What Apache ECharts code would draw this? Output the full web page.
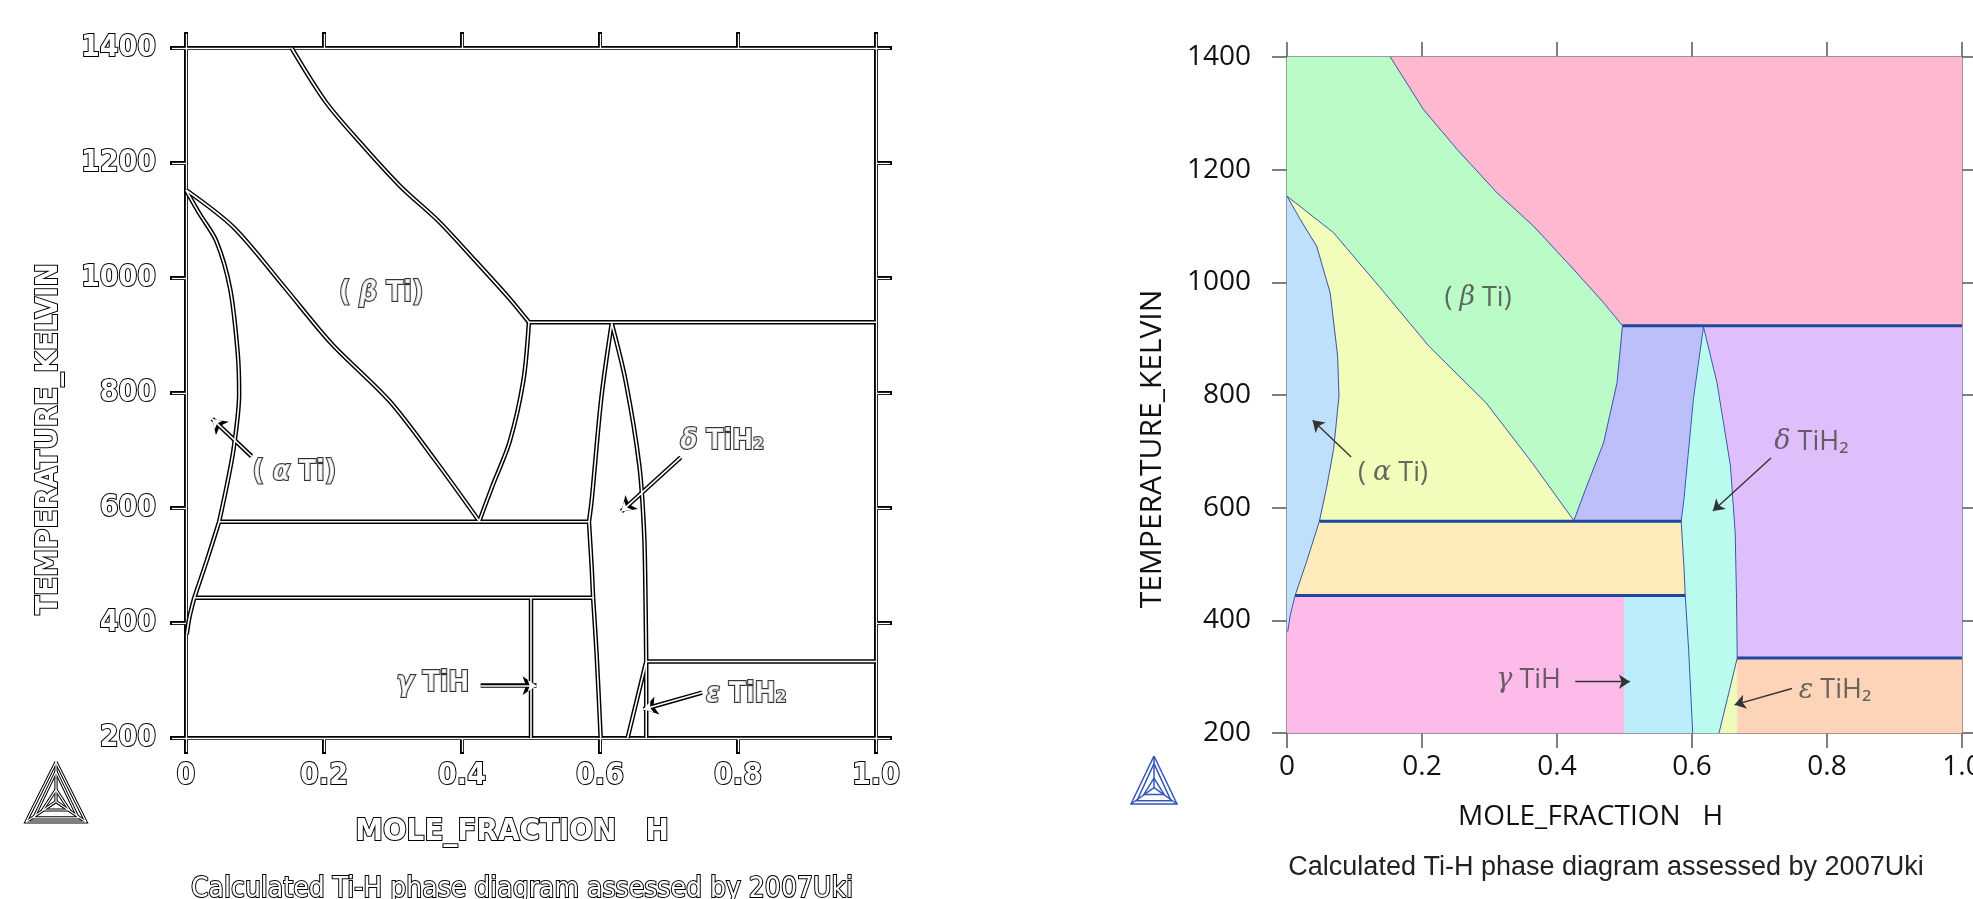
<!doctype html>
<html>
<head>
<meta charset="utf-8">
<script src="https://cdn.jsdelivr.net/npm/echarts@6/dist/echarts.min.js"></script>
<style>
html, body { margin: 0; padding: 0; background: #fff; }
#main { width: 1973px; height: 899px; }
</style>
</head>
<body>
<div id="main"></div>
<script>
// axis ticks
var xTickLabels = ['0', '0.2', '0.4', '0.6', '0.8', '1.0'];
var tempTicks = [200, 400, 600, 800, 1000, 1200, 1400];

// phase boundaries, [mole fraction H, temperature K]
var gasBeta = [[0.153, 1400], [0.202, 1307], [0.252, 1236], [0.311, 1159], [0.365, 1100], [0.420, 1029], [0.469, 964], [0.497, 923]];
var betaDelta = [[0.497, 923], [0.489, 822], [0.469, 715], [0.444, 638], [0.425, 577]];
var betaSolvus = [[0, 1153], [0.069, 1088], [0.142, 985], [0.210, 887], [0.295, 786], [0.363, 680], [0.425, 577]];
var alphaSolvus = [[0, 1153], [0.020, 1111], [0.044, 1064], [0.064, 981], [0.075, 869], [0.077, 798], [0.069, 703], [0.059, 638], [0.048, 576]];
var alphaLow = [[0.048, 576], [0.030, 508], [0.012, 444]];
var alphaEnd = [[0.012, 444], [0.005, 410], [0.001, 380]];
var deltaLeftTop = [[0.617, 921], [0.602, 792], [0.588, 614], [0.584, 576]];
var deltaLeftMid = [[0.584, 576], [0.588, 496], [0.590, 444]];
var deltaLeftLow = [[0.590, 444], [0.595, 348], [0.601, 200]];
var deltaRight = [[0.617, 921], [0.637, 822], [0.657, 674], [0.664, 555], [0.666, 437], [0.667, 333]];
var epsSolvus = [[0.667, 333], [0.652, 259], [0.640, 200]];
var gammaTiH = [[0.5, 200], [0.5, 444]];
var epsEdge = [[0.667, 200], [0.667, 333]];
var invariants = [
    [[0.497, 923], [1, 923]],
    [[0.048, 576], [0.584, 576]],
    [[0.012, 444], [0.590, 444]],
    [[0.667, 333], [1, 333]]
];

// phase labels and arrows
var phaseLabels = ['( {g|β} Ti)', '( {g|α} Ti)', '{g|δ} TiH₂', '{g|γ} TiH', '{g|ε} TiH₂'];
var labelPos = [[0.283, 972], [0.157, 661], [0.777, 716], [0.358, 294], [0.812, 275]];
var arrows = [
    [[0.095, 690], [0.038, 755]],
    [[0.717, 688], [0.631, 594]],
    [[0.427, 291], [0.508, 291]],
    [[0.748, 279], [0.663, 250]]
];

function rev(a) { return a.slice().reverse(); }

var polygons = [
    [[1, 1400], [1, 923]].concat(rev(gasBeta)),
    [[0, 1400]].concat(gasBeta, betaDelta.slice(1), rev(betaSolvus)),
    betaSolvus.concat(rev(alphaSolvus)),
    alphaSolvus.concat(alphaLow.slice(1), alphaEnd.slice(1), [[0, 380]]),
    [[0.497, 923], [0.617, 923]].concat(deltaLeftTop, [[0.425, 576]], rev(betaDelta)),
    [[0.617, 923], [1, 923], [1, 333]].concat(rev(deltaRight)),
    deltaLeftTop.concat(deltaLeftMid.slice(1), deltaLeftLow.slice(1), rev(epsSolvus), rev(deltaRight).slice(1)),
    [[0.048, 576], [0.584, 576]].concat(deltaLeftMid.slice(1), [[0.012, 444]], rev(alphaLow).slice(1)),
    [[0.012, 444], [0.5, 444], [0.5, 200], [0, 200], [0, 380]].concat(rev(alphaEnd)),
    [[0.5, 444]].concat(deltaLeftLow, [[0.5, 200]]),
    epsSolvus.concat([[0.667, 200]]),
    [[0.667, 333], [1, 333], [1, 200], [0.667, 200]]
];
var regionColors = ['#feb9d0', '#bafbc8', '#f2fcbb', '#bee0fb', '#bdbffb', '#dfbffb',
    '#bbfbef', '#fdebbc', '#fdbbea', '#bcedfb', '#eefcbb', '#fed4b9'];

var curves = [gasBeta, betaDelta, betaSolvus, alphaSolvus, alphaLow, alphaEnd,
    deltaLeftTop, deltaLeftMid, deltaLeftLow, deltaRight, epsSolvus, gammaTiH, epsEdge];

var chart = echarts.init(document.getElementById('main'));

var outlineFont = 'DejaVu Sans Condensed';
var outlineText = { color: '#fff', textBorderColor: '#000', textBorderWidth: 2, fontFamily: outlineFont, fontWeight: 'bold' };
var xFmt = function (v) { return xTickLabels[Math.round(v / 0.2)]; };
var yFmt = function (v) { return String(tempTicks[Math.round((v - 200) / 200)]); };

function leftX(pos, white) {
    var ax = {
        gridIndex: 0, type: 'value', min: 0, max: 1, interval: 0.2, position: pos, z: white ? 2 : 1,
        axisLine: { onZero: false, lineStyle: { color: white ? '#fff' : '#000', width: white ? 1.3 : 4 } },
        axisTick: { length: white ? 14 : 16, lineStyle: { color: white ? '#fff' : '#000', width: white ? 1.3 : 4 } },
        axisLabel: { show: false },
        splitLine: { show: false }
    };
    if (pos === 'bottom' && !white) {
        ax.axisLabel = Object.assign({ show: true, margin: 23, fontSize: 30, formatter: xFmt }, outlineText);
        ax.name = 'MOLE_FRACTION   H';
        ax.nameLocation = 'middle';
        ax.nameGap = 78;
        ax.nameTextStyle = Object.assign({ fontSize: 31, padding: [0, 38, 0, 0] }, outlineText);
    }
    return ax;
}
function leftY(pos, white) {
    var ax = {
        gridIndex: 0, type: 'value', min: 200, max: 1400, interval: 200, position: pos, z: white ? 2 : 1,
        axisLine: { onZero: false, lineStyle: { color: white ? '#fff' : '#000', width: white ? 1.3 : 4 } },
        axisTick: { length: white ? 14 : 16, lineStyle: { color: white ? '#fff' : '#000', width: white ? 1.3 : 4 } },
        axisLabel: { show: false },
        splitLine: { show: false }
    };
    if (pos === 'left' && !white) {
        ax.axisLabel = Object.assign({ show: true, margin: 30, fontSize: 30, formatter: yFmt }, outlineText);
        ax.name = 'TEMPERATURE_KELVIN';
        ax.nameLocation = 'middle';
        ax.nameGap = 122;
        ax.nameTextStyle = Object.assign({ fontSize: 31, padding: [0, 92, 0, 0] }, outlineText);
    }
    return ax;
}
var rightLine = { onZero: false, lineStyle: { color: '#555', width: 1.5 } };
var rightTick = { length: 15, lineStyle: { color: '#555', width: 1.5 } };
var rightText = { fontSize: 28, fontFamily: 'Open Sans', color: '#111' };

var series = [];

// left panel: outlined drawing
curves.concat(invariants).forEach(function (c) {
    series.push({ type: 'line', xAxisIndex: 0, yAxisIndex: 0, data: c, showSymbol: false, smooth: 0.3,
        lineStyle: { color: '#000', width: 4.5 }, z: 3, silent: true });
    series.push({ type: 'line', xAxisIndex: 0, yAxisIndex: 0, data: c, showSymbol: false, smooth: 0.3,
        lineStyle: { color: '#fff', width: 1.6 }, z: 4, silent: true });
});
series.push({ type: 'lines', coordinateSystem: 'cartesian2d', xAxisIndex: 0, yAxisIndex: 0,
    symbol: ['none', 'arrow'], symbolSize: 14, lineStyle: { color: '#000', width: 4.5, opacity: 1 }, z: 3,
    data: arrows.map(function (a) { return { coords: a }; }) });
series.push({ type: 'lines', coordinateSystem: 'cartesian2d', xAxisIndex: 0, yAxisIndex: 0,
    symbol: ['none', 'arrow'], symbolSize: 9, lineStyle: { color: '#fff', width: 1.6, opacity: 1 }, z: 4,
    data: arrows.map(function (a) { return { coords: a }; }) });
series.push({ type: 'scatter', xAxisIndex: 0, yAxisIndex: 0, symbolSize: 0, z: 5,
    data: labelPos,
    label: Object.assign({ show: true, position: 'inside', fontSize: 28,
        formatter: function (p) { return phaseLabels[p.dataIndex]; },
        rich: { g: Object.assign({ fontSize: 28, fontStyle: 'italic' }, outlineText) } }, outlineText) });

// right panel: coloured regions
series.push({ type: 'custom', xAxisIndex: 4, yAxisIndex: 4, z: 2, silent: true,
    data: polygons.map(function (p) { return p[0]; }),
    renderItem: function (params, api) {
        var pts = polygons[params.dataIndex].map(function (p) { return api.coord(p); });
        return { type: 'polygon', shape: { points: pts },
            style: { fill: regionColors[params.dataIndex], stroke: regionColors[params.dataIndex], lineWidth: 0.6 } };
    } });
curves.slice(0, 11).forEach(function (c) {
    series.push({ type: 'line', xAxisIndex: 4, yAxisIndex: 4, data: c, showSymbol: false,
        lineStyle: { color: '#3a55a8', width: 1 }, z: 3, silent: true });
});
invariants.forEach(function (c) {
    series.push({ type: 'line', xAxisIndex: 4, yAxisIndex: 4, data: c, showSymbol: false,
        lineStyle: { color: '#1d47a0', width: 3 }, z: 3, silent: true });
});
series.push({ type: 'lines', coordinateSystem: 'cartesian2d', xAxisIndex: 4, yAxisIndex: 4,
    symbol: ['none', 'arrow'], symbolSize: 11, lineStyle: { color: '#333', width: 1.4, opacity: 1 }, z: 4,
    data: arrows.map(function (a) { return { coords: a }; }) });
series.push({ type: 'scatter', xAxisIndex: 4, yAxisIndex: 4, symbolSize: 0, z: 5,
    data: labelPos,
    label: { show: true, position: 'inside', fontSize: 27, fontFamily: 'Open Sans', color: '#444',
        formatter: function (p) { return phaseLabels[p.dataIndex]; },
        rich: { g: { fontSize: 27, fontFamily: 'DejaVu Serif', fontStyle: 'italic', color: '#444' } } } });

function tri(ax, ay, bx, by, cx, cy) { return [[ax, ay], [bx, by], [cx, cy], [ax, ay]]; }
function logo(x0, y0, w, h, color, width, outline) {
    var cx = x0 + w / 2, cy = y0 + h * 0.66;
    var shapes = [
        tri(cx, y0, x0, y0 + h, x0 + w, y0 + h),
        tri(cx, y0 + h * 0.16, x0 + w * 0.13, y0 + h * 0.93, x0 + w * 0.87, y0 + h * 0.93),
        [[cx, y0], [cx, cy]], [[x0, y0 + h], [cx, cy]], [[x0 + w, y0 + h], [cx, cy]],
        tri(cx, cy - h * 0.2, cx - w * 0.22, cy + h * 0.14, cx + w * 0.22, cy + h * 0.14)
    ];
    var els = [];
    shapes.forEach(function (s) {
        if (outline) {
            els.push({ type: 'polyline', shape: { points: s }, style: { stroke: '#000', lineWidth: width + 2, fill: null } });
            els.push({ type: 'polyline', shape: { points: s }, z: 101, style: { stroke: '#fff', lineWidth: width, fill: null } });
        } else {
            els.push({ type: 'polyline', shape: { points: s }, style: { stroke: color, lineWidth: width, fill: null } });
        }
    });
    return els;
}

chart.setOption({
    animation: false,
    backgroundColor: '#fff',
    grid: [
        { left: 186, top: 48, width: 690, height: 690, outerBoundsMode: 'none' },
        { left: 1287, top: 57, width: 675, height: 676, outerBoundsMode: 'none' }
    ],
    xAxis: [
        leftX('bottom', false), leftX('top', false), leftX('bottom', true), leftX('top', true),
        { gridIndex: 1, type: 'value', min: 0, max: 1, interval: 0.2, position: 'bottom',
            axisLine: rightLine, axisTick: rightTick, splitLine: { show: false },
            axisLabel: Object.assign({ margin: 20, formatter: xFmt }, rightText),
            name: 'MOLE_FRACTION   H', nameLocation: 'middle', nameGap: 70,
            nameTextStyle: Object.assign({ padding: [0, 68, 0, 0] }, rightText) },
        { gridIndex: 1, type: 'value', min: 0, max: 1, interval: 0.2, position: 'top',
            axisLine: rightLine, axisTick: rightTick, splitLine: { show: false }, axisLabel: { show: false } }
    ],
    yAxis: [
        leftY('left', false), leftY('right', false), leftY('left', true), leftY('right', true),
        { gridIndex: 1, type: 'value', min: 200, max: 1400, interval: 200, position: 'left',
            axisLine: rightLine, axisTick: rightTick, splitLine: { show: false },
            axisLabel: Object.assign({ margin: 36, formatter: yFmt }, rightText),
            name: 'TEMPERATURE_KELVIN', nameLocation: 'middle', nameGap: 120,
            nameTextStyle: Object.assign({}, rightText, { fontSize: 30, padding: [0, 108, 0, 0] }) },
        { gridIndex: 1, type: 'value', min: 200, max: 1400, interval: 200, position: 'right',
            axisLine: rightLine, axisTick: rightTick, splitLine: { show: false }, axisLabel: { show: false } }
    ],
    graphic: [
        { type: 'text', x: 522, y: 890, z: 100, style: { text: 'Calculated Ti-H phase diagram assessed by 2007Uki',
            fontSize: 28, fontFamily: outlineFont, fill: '#fff', stroke: '#000', lineWidth: 2,
            align: 'center', verticalAlign: 'middle' } },
        { type: 'text', x: 1606, y: 868, z: 100, style: { text: 'Calculated Ti-H phase diagram assessed by 2007Uki',
            fontSize: 27, fontFamily: 'Liberation Sans', fill: '#222', align: 'center', verticalAlign: 'middle' } },
        { type: 'group', z: 100, children: logo(26, 762, 60, 60, '#000', 1.2, true) },
        { type: 'group', z: 100, children: logo(1131, 756, 46, 48, '#3556b8', 1.5, false) }
    ],
    series: series
});

window.onresize = chart.resize;
</script>
</body>
</html>
